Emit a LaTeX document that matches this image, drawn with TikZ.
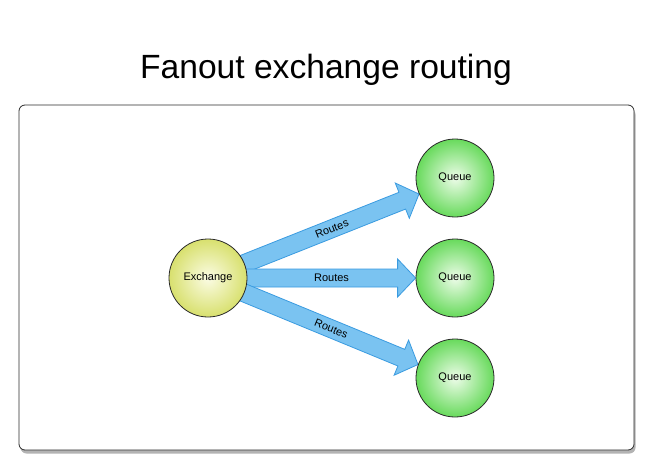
\documentclass[tikz,border=0pt]{standalone}
\usepackage{fontspec}
\setmainfont{Liberation Sans}
\usepackage{tikz}
\usetikzlibrary{calc,shadows,positioning}
\definecolor{tinta}{HTML}{2B2B2B}
\definecolor{azul}{HTML}{7AC3F1}
\definecolor{azulborda}{HTML}{3A9BE0}
\definecolor{trocaclara}{HTML}{FBFCE4}
\definecolor{trocaescura}{HTML}{D8E06E}
\definecolor{filaclara}{HTML}{EDFCE9}
\definecolor{filaescura}{HTML}{68DA5C}
\pgfdeclarelayer{fundo}
\pgfsetlayers{fundo,main}
\tikzset{
  no/.style={circle, draw=tinta, line width=0.8pt, minimum size=78pt, inner sep=0pt,
    font=\fontsize{11}{13}\selectfont},
  troca/.style={no, inner color=trocaclara, outer color=trocaescura},
  fila/.style={no, inner color=filaclara, outer color=filaescura},
  rota/.style={fill=azul, draw=azulborda, line width=0.8pt, line join=miter},
  rotulo/.style={font=\fontsize{11}{13}\selectfont, sloped, midway, inner sep=1pt},
  quadro/.style={draw=tinta, line width=0.8pt, fill=white, rounded corners=6pt,
    drop shadow={opacity=0.6, shadow xshift=1.5pt, shadow yshift=-3.5pt}},
}
% seta larga de #1 (no) ate #2 (ponto na borda da fila)
\newcommand{\rota}[2]{%
  \coordinate (ponta) at (#2);
  \coordinate (base) at ($(ponta)!18pt!(#1.center)$);
  \path[rota] ($(#1.center)!9pt!90:(ponta)$) -- ($(base)!9pt!90:(ponta)$)
    -- ($(base)!19pt!90:(ponta)$) -- (ponta) -- ($(base)!19pt!-90:(ponta)$)
    -- ($(base)!9pt!-90:(ponta)$) -- ($(#1.center)!9pt!-90:(ponta)$) -- cycle;
  \path (#1) -- (ponta) node[rotulo] {Routes};
}

\begin{document}
\begin{tikzpicture}[x=1pt, y=-1pt]
    \useasboundingbox (0,0) rectangle (668,465);
    \node (titulo) at (326,70) {\fontsize{33.6}{40}\selectfont Fanout exchange routing};
    \node[troca] (ex) at (208,278) {Exchange};
    \node[fila] (q1) at (455,178) {Queue};
    \node[fila] (q2) at (455,278) {Queue};
    \node[fila] (q3) at (455,378) {Queue};
    \begin{pgfonlayer}{fundo}
      \draw[quadro] (19,105) rectangle (634,450);
      \rota{ex}{q1.204}
      \rota{ex}{q2.west}
      \rota{ex}{q3.160}
    \end{pgfonlayer}
\end{tikzpicture}
\end{document}
